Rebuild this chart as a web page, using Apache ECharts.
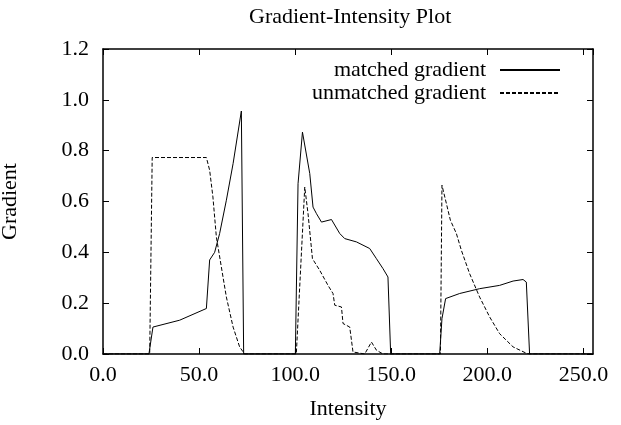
<!DOCTYPE html>
<html>
<head>
<meta charset="utf-8">
<script src="https://cdn.jsdelivr.net/npm/echarts@6/dist/echarts.min.js"></script>
<style>
  html, body { margin: 0; padding: 0; background: #fff; }
  #chart { width: 621px; height: 425px; }
</style>
</head>
<body>
<div id="chart"></div>
<script>
  // matched gradient (solid)
  var matchedX = [0, 23.9, 26.0, 39.9, 53.8, 55.5, 58.1, 60.7, 64.2, 67.7, 72.0, 73.2,
    100.1, 101.5, 103.8, 107.6, 109.3, 111.1, 113.7, 118.9, 123.2, 125.8, 131.9, 138.8, 142.3, 145.7, 148.3, 149.7,
    175.2, 176.4, 178.3, 185.6, 196.0, 206.4, 213.4, 218.6, 220.3, 222.0, 255];
  var matchedY = [0, 0, 0.106, 0.133, 0.179, 0.37, 0.40, 0.474, 0.605, 0.749, 0.956, 0,
    0, 0.67, 0.873, 0.71, 0.578, 0.552, 0.519, 0.529, 0.474, 0.454, 0.441, 0.415, 0.375, 0.336, 0.303, 0,
    0, 0.139, 0.218, 0.238, 0.257, 0.27, 0.287, 0.293, 0.283, 0, 0];

  // unmatched gradient (dashed)
  var unmatchedX = [0, 24.3, 25.6, 53.8, 55.5, 57.2, 59.0, 61.6, 64.2, 67.7, 71.1, 73.7,
    100.6, 105.0, 106.7, 109.0, 112.8, 117.1, 119.7, 120.6, 124.1, 124.9, 128.4, 130.1, 136.2, 139.7, 142.3, 145.7,
    175.6, 176.4, 178.7, 180.8, 183.9, 186.5, 190.8, 196.0, 201.2, 206.4, 213.4, 220.3, 222, 255];
  var unmatchedY = [0, 0, 0.773, 0.773, 0.723, 0.618, 0.46, 0.342, 0.224, 0.106, 0.028, 0,
    0, 0.657, 0.552, 0.375, 0.329, 0.27, 0.238, 0.192, 0.185, 0.12, 0.106, 0.008, 0, 0.047, 0.015, 0,
    0, 0.664, 0.592, 0.526, 0.474, 0.408, 0.316, 0.224, 0.146, 0.08, 0.028, 0.003, 0, 0];

  var seriesNames = ['matched gradient', 'unmatched gradient'];

  function pairs(xs, ys) {
    var out = [];
    for (var i = 0; i < xs.length; i++) out.push([xs[i], ys[i]]);
    return out;
  }

  var font = 'Liberation Serif';
  var black = '#000';

  var tickStyle = { show: true, inside: true, length: 6, lineStyle: { color: black, width: 1 } };
  var lineAxis = { show: true, onZero: false, lineStyle: { color: black, width: 1.5 } };
  var labelStyle = {
    color: black, fontSize: 22, fontFamily: font,
    formatter: function (v) { return v.toFixed(1); }
  };

  var myChart = echarts.init(document.getElementById('chart'));

  var option = {
    animation: false,
    backgroundColor: '#fff',
    title: {
      text: 'Gradient-Intensity Plot',
      left: 244,
      top: 1,
      textStyle: { color: black, fontSize: 22, fontWeight: 'normal', fontFamily: font }
    },
    legend: {
      orient: 'vertical',
      align: 'right',
      right: 55,
      top: 54,
      itemWidth: 60,
      itemHeight: 12,
      itemGap: 1,
      data: seriesNames,
      itemStyle: { opacity: 0 },
      textStyle: { color: black, fontSize: 22, fontFamily: font, padding: [0, 9, 0, 0] }
    },
    grid: { left: 103, right: 28, top: 49, bottom: 71, outerBoundsMode: 'none' },
    xAxis: [
      {
        type: 'value', min: 0, max: 255, interval: 50,
        axisLine: lineAxis, axisTick: tickStyle,
        axisLabel: Object.assign({ margin: 10, showMaxLabel: false }, labelStyle),
        splitLine: { show: false },
        name: 'Intensity', nameLocation: 'middle', nameGap: 44,
        nameTextStyle: { color: black, fontSize: 22, fontFamily: font }
      },
      {
        type: 'value', position: 'top', min: 0, max: 255, interval: 50,
        axisLine: lineAxis, axisTick: tickStyle,
        axisLabel: { show: false }, splitLine: { show: false }
      }
    ],
    yAxis: [
      {
        type: 'value', min: 0, max: 1.2, interval: 0.2,
        axisLine: lineAxis, axisTick: tickStyle,
        axisLabel: Object.assign({ margin: 14 }, labelStyle),
        splitLine: { show: false },
        name: 'Gradient', nameLocation: 'middle', nameGap: 82, nameRotate: 90,
        nameTextStyle: { color: black, fontSize: 22, fontFamily: font }
      },
      {
        type: 'value', position: 'right', min: 0, max: 1.2, interval: 0.2,
        axisLine: lineAxis, axisTick: tickStyle,
        axisLabel: { show: false }, splitLine: { show: false }
      }
    ],
    series: [
      {
        name: seriesNames[0],
        type: 'line',
        symbol: 'none',
        data: pairs(matchedX, matchedY),
        lineStyle: { color: black, width: 1, type: 'solid' },
        itemStyle: { color: black }
      },
      {
        name: seriesNames[1],
        type: 'line',
        symbol: 'none',
        data: pairs(unmatchedX, unmatchedY),
        lineStyle: { color: black, width: 1, type: [4, 2] },
        itemStyle: { color: black }
      }
    ]
  };

  myChart.setOption(option);
</script>
</body>
</html>
